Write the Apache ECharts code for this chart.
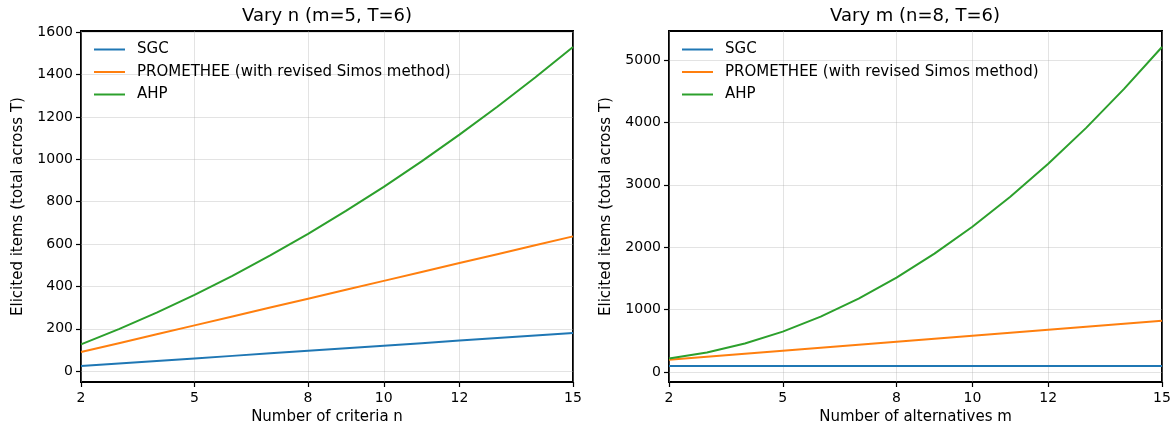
<!DOCTYPE html>
<html>
<head>
<meta charset="utf-8">
<script src="https://cdn.jsdelivr.net/npm/echarts@6/dist/echarts.min.js"></script>
<style>
  html, body { margin: 0; padding: 0; background: #fff; }
  #chart { width: 1174px; height: 430px; }
</style>
</head>
<body>
<div id="chart"></div>
<script>
// x values (integers 2..15) shared by both panels
const xValues = [2, 3, 4, 5, 6, 7, 8, 9, 10, 11, 12, 13, 14, 15]
const xTicks = [2, 5, 8, 10, 12, 15]

// left panel: vary n (m=5, T=6)
const sgcN = [24, 36, 48, 60, 72, 84, 96, 108, 120, 132, 144, 156, 168, 180]
const promN = [90, 132, 174, 216, 258, 300, 342, 384, 426, 468, 510, 552, 594, 636]
const ahpN = [126, 198, 276, 360, 450, 546, 648, 756, 870, 990, 1116, 1248, 1386, 1530]
const yTicksN = [0, 200, 400, 600, 800, 1000, 1200, 1400, 1600]

// right panel: vary m (n=8, T=6)
const sgcM = [96, 96, 96, 96, 96, 96, 96, 96, 96, 96, 96, 96, 96, 96]
const promM = [198, 246, 294, 342, 390, 438, 486, 534, 582, 630, 678, 726, 774, 822]
const ahpM = [216, 312, 456, 648, 888, 1176, 1512, 1896, 2328, 2808, 3336, 3912, 4536, 5208]
const yTicksM = [0, 1000, 2000, 3000, 4000, 5000]

const names = ['SGC', 'PROMETHEE (with revised Simos method)', 'AHP']
const colors = ['#1f77b4', '#ff7f0e', '#2ca02c']
const font = 'DejaVu Sans'

const pairs = (ys) => xValues.map((x, i) => [x, ys[i]])

const makeX = (idx, name) => ({
  type: 'value',
  gridIndex: idx,
  min: 2,
  max: 15,
  name: name,
  nameLocation: 'middle',
  nameGap: 28,
  nameTextStyle: { fontFamily: font, fontSize: 15, color: '#000' },
  axisLine: { show: false, onZero: false },
  axisTick: { show: true, customValues: xTicks, length: 5, lineStyle: { color: '#000', width: 1.2 } },
  axisLabel: { customValues: xTicks, margin: 9, fontFamily: font, fontSize: 14, color: '#000',
    formatter: (v) => String(v) },
  splitLine: { show: true, lineStyle: { color: 'rgba(176,176,176,0.35)', width: 1 } }
})

const makeY = (idx, min, max, ticks) => ({
  type: 'value',
  gridIndex: idx,
  min: min,
  max: max,
  name: 'Elicited items (total across T)',
  nameLocation: 'middle',
  nameGap: 55,
  nameTextStyle: { fontFamily: font, fontSize: 15, color: '#000' },
  axisLine: { show: false, onZero: false },
  axisTick: { show: true, customValues: ticks, length: 5, lineStyle: { color: '#000', width: 1.2 } },
  axisLabel: { customValues: ticks, margin: 8, fontFamily: font, fontSize: 14, color: '#000',
    formatter: (v) => String(v) },
  splitLine: { show: true, lineStyle: { color: 'rgba(176,176,176,0.35)', width: 1 } }
})

const makeSeries = (idx, data) => data.map((ys, k) => ({
  name: names[k],
  type: 'line',
  xAxisIndex: idx,
  yAxisIndex: idx,
  data: pairs(ys),
  symbol: 'none',
  showSymbol: false,
  lineStyle: { color: colors[k], width: 2 },
  itemStyle: { color: colors[k] },
  z: 3,
  animation: false
}))

const makeLegend = (left) => ({
  orient: 'vertical',
  left: left,
  top: 42,
  padding: 0,
  icon: 'rect',
  itemWidth: 31,
  itemHeight: 2,
  itemGap: 7.5,
  data: names,
  selectedMode: false,
  textStyle: { fontFamily: font, fontSize: 15, color: '#000', padding: [0, 0, 0, 7] }
})

const chart = echarts.init(document.getElementById('chart'), null, { renderer: 'canvas' })
chart.setOption({
  animation: false,
  title: [
    { text: 'Vary n (m=5, T=6)', left: 327, top: 7, padding: 0, textAlign: 'center',
      textStyle: { fontFamily: font, fontSize: 18, fontWeight: 'normal', color: '#000' } },
    { text: 'Vary m (n=8, T=6)', left: 915, top: 7, padding: 0, textAlign: 'center',
      textStyle: { fontFamily: font, fontSize: 18, fontWeight: 'normal', color: '#000' } }
  ],
  legend: [makeLegend(94), makeLegend(682)],
  grid: [
    { left: 81, top: 31, width: 492, height: 351, show: true, borderColor: '#000', borderWidth: 2,
      outerBoundsMode: 'none', containLabel: false },
    { left: 669, top: 31, width: 493, height: 351, show: true, borderColor: '#000', borderWidth: 2,
      outerBoundsMode: 'none', containLabel: false }
  ],
  xAxis: [makeX(0, 'Number of criteria n'), makeX(1, 'Number of alternatives m')],
  yAxis: [makeY(0, -51.3, 1605.3, yTicksN), makeY(1, -159.6, 5463.6, yTicksM)],
  series: [
    ...makeSeries(0, [sgcN, promN, ahpN]),
    ...makeSeries(1, [sgcM, promM, ahpM])
  ]
})

window.onresize = function () {
  chart.resize()
}
</script>
</body>
</html>
